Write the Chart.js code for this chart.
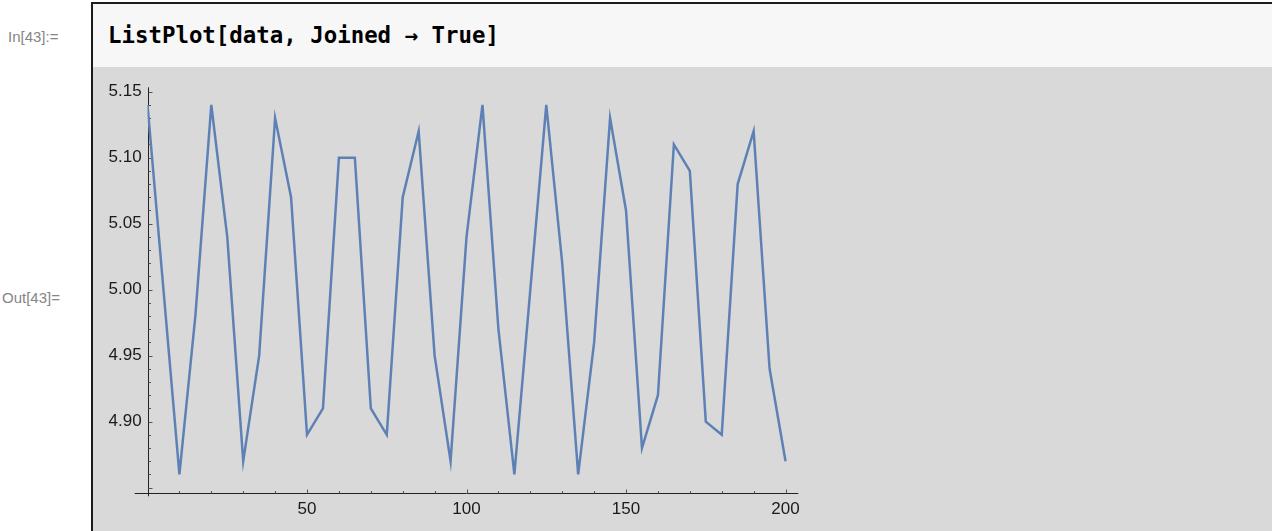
<!DOCTYPE html>
<html>
<head>
<meta charset="utf-8">
<title>ListPlot[data, Joined → True]</title>
<script src="https://cdn.jsdelivr.net/npm/chart.js@4"></script>
<style>
  html, body { margin: 0; padding: 0; background: #fff; }
  body { width: 1272px; height: 531px; overflow: hidden; position: relative; font-family: "Liberation Sans", Arial, sans-serif; }
  .prompt { position: absolute; color: #858585; font-size: 15px; line-height: 20px; }
  #inLabel { left: 8px; top: 27px; }
  #outLabel { left: 2px; top: 288px; }
  .cell { position: absolute; left: 91px; top: 2px; right: 0; bottom: 0; border-left: 2px solid #1c1c1c; border-top: 2px solid #1c1c1c; background: #d9d9d9; }
  .input { height: 63px; background: #f7f7f7; font-family: "DejaVu Sans Mono", monospace; font-weight: bold; font-size: 22.4px; line-height: 63px; padding-left: 15px; color: #000; white-space: pre; }
  #plot { position: absolute; left: 0; top: 63px; }
</style>
</head>
<body>
<div class="prompt" id="inLabel">In[43]:=</div>
<div class="prompt" id="outLabel">Out[43]=</div>
<div class="cell">
  <div class="input">ListPlot[data, Joined → True]</div>
  <canvas id="plot" width="1179" height="464"></canvas>
</div>
<script>
// data (x every 5)
var xValues = [0, 5, 10, 15, 20, 25, 30, 35, 40, 45,
               50, 55, 60, 65, 70, 75, 80, 85, 90, 95,
               100, 105, 110, 115, 120, 125, 130, 135, 140, 145,
               150, 155, 160, 165, 170, 175, 180, 185, 190, 195, 200];
var yValues = [5.14, 5.00, 4.86, 4.98, 5.14, 5.04, 4.87, 4.95, 5.13, 5.07,
               4.89, 4.91, 5.10, 5.10, 4.91, 4.89, 5.07, 5.12, 4.95, 4.87,
               5.04, 5.14, 4.97, 4.86, 5.00, 5.14, 5.02, 4.86, 4.96, 5.13,
               5.06, 4.88, 4.92, 5.11, 5.09, 4.90, 4.89, 5.08, 5.12, 4.94, 4.87];
var xTickLabels = [50, 100, 150, 200];
var yTickLabels = [4.90, 4.95, 5.00, 5.05, 5.10, 5.15];

var tickFont = { family: '"Liberation Sans", Arial, sans-serif', size: 17 };

// Mathematica style axes: crossing at x = 0, ticks pointing inward
var mmaAxes = {
    id: 'mmaAxes',
    beforeDatasetsDraw: function(chart) {
        var ctx = chart.ctx, area = chart.chartArea;
        var sx = chart.scales.x, sy = chart.scales.y;
        var x0 = Math.round(sx.getPixelForValue(0)) + 0.5;
        var yb = Math.round(area.bottom) + 0.5;
        ctx.save();
        ctx.lineWidth = 1;
        ctx.strokeStyle = '#222';
        ctx.beginPath();
        // x axis runs a little past the origin, like the original
        ctx.moveTo(sx.getPixelForValue(-4), yb);
        ctx.lineTo(area.right, yb);
        ctx.moveTo(x0, area.top);
        ctx.lineTo(x0, area.bottom + 3);
        ctx.stroke();

        ctx.strokeStyle = '#555';
        ctx.beginPath();
        for (var v = 10; v <= 200; v += 10) {
            var len = xTickLabels.indexOf(v) >= 0 ? 4 : 2.5;
            var px = Math.round(sx.getPixelForValue(v)) + 0.5;
            ctx.moveTo(px, yb);
            ctx.lineTo(px, yb - len);
        }
        for (var i = 485; i <= 515; i++) {
            var ylen = (i % 5 === 0) ? 4 : 2.5;
            var py = Math.round(sy.getPixelForValue(i / 100)) + 0.5;
            ctx.moveTo(x0, py);
            ctx.lineTo(x0 + ylen, py);
        }
        ctx.stroke();
        ctx.restore();
    }
};

new Chart(document.getElementById('plot').getContext('2d'), {
    type: 'line',
    data: {
        datasets: [{
            data: xValues.map(function(x, i) { return {x: x, y: yValues[i]}; }),
            borderColor: '#5e81b5',
            borderWidth: 2.5,
            pointRadius: 0,
            tension: 0,
            fill: false
        }]
    },
    options: {
        responsive: false,
        animation: false,
        devicePixelRatio: 1,
        layout: { padding: { left: 0, top: 20.3, right: 473.7, bottom: 0 } },
        plugins: { legend: { display: false }, tooltip: { enabled: false } },
        scales: {
            x: {
                type: 'linear',
                min: 0,
                max: 204,
                afterBuildTicks: function(s) { s.ticks = xTickLabels.map(function(v) { return {value: v}; }); },
                afterFit: function(s) { s.height = 37.7; },
                grid: { display: false, drawTicks: false },
                border: { display: false },
                ticks: { padding: 6, color: '#1a1a1a', font: tickFont, maxRotation: 0, autoSkip: false }
            },
            y: {
                type: 'linear',
                min: 4.8457,
                max: 5.1533,
                afterBuildTicks: function(s) { s.ticks = yTickLabels.map(function(v) { return {value: v}; }); },
                afterFit: function(s) { s.width = 54.5; },
                grid: { display: false, drawTicks: false },
                border: { display: false },
                ticks: {
                    padding: 5.8,
                    color: '#1a1a1a',
                    font: tickFont,
                    autoSkip: false,
                    callback: function(v) { return Number(v).toFixed(2); }
                }
            }
        }
    },
    plugins: [mmaAxes]
});
</script>
</body>
</html>
